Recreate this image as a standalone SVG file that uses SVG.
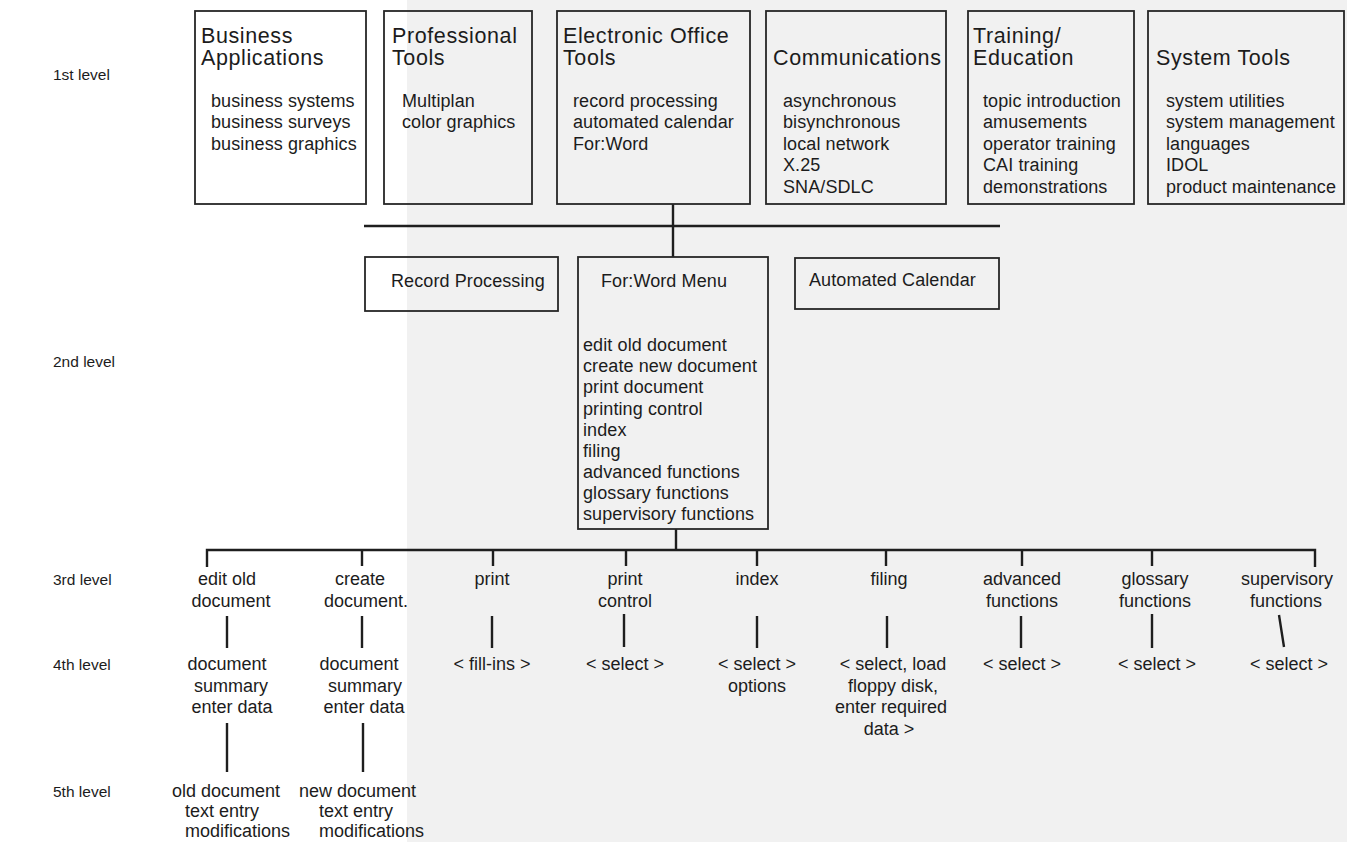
<svg xmlns="http://www.w3.org/2000/svg" width="1347" height="842" viewBox="0 0 1347 842">
<style>
text{font-family:"Liberation Sans",Arial,sans-serif;fill:#1c1c1c}
.title{font-size:21.5px;letter-spacing:0.6px}
.item{font-size:18px;letter-spacing:0.1px}
.lbl{font-size:18px}
.c{text-anchor:middle}
.lvl{font-size:15.5px}
.box{fill:none;stroke:#262626;stroke-width:1.8}
.ln{fill:none;stroke:#1e1e1e;stroke-width:2.4;stroke-linecap:butt}
</style>
<rect x="0" y="0" width="1347" height="842" fill="#ffffff"/>
<rect x="407" y="0" width="940" height="842" fill="#f1f1f1"/>

<g id="levels">
<text class="lvl" x="53" y="80">1st level</text>
<text class="lvl" x="53" y="367">2nd level</text>
<text class="lvl" x="53" y="585">3rd level</text>
<text class="lvl" x="53" y="670">4th level</text>
<text class="lvl" x="53" y="797">5th level</text>
</g>

<g id="connectors">
<path class="ln" d="M364,226 H1000"/>
<path class="ln" d="M673,204 V257"/>
<path class="ln" d="M676,529 V550"/>
<path class="ln" d="M207,567 V550 H1315 V567"/>
<path class="ln" d="M362,550 V566 M493,550 V566 M626,550 V566 M757,550 V566 M886,550 V566 M1022,550 V566 M1152,550 V566"/>
<path class="ln" d="M227,616 V648 M362,616 V648 M492,616 V648 M624,614 V647 M757,616 V648 M887,616 V648 M1021,616 V648 M1152,614 V648 M1279,615 L1284,647"/>
<path class="ln" d="M227,723 V772 M363,723 V772"/>
</g>

<g id="business-applications">
<rect class="box" x="195" y="11" width="171" height="193"/>
<text class="title" x="201" y="43">Business</text>
<text class="title" x="201" y="65">Applications</text>
<text class="item" x="211" y="106.5">business systems</text>
<text class="item" x="211" y="128">business surveys</text>
<text class="item" x="211" y="149.5">business graphics</text>
</g>

<g id="professional-tools">
<rect class="box" x="384" y="11" width="148" height="193"/>
<text class="title" x="392" y="43">Professional</text>
<text class="title" x="392" y="65">Tools</text>
<text class="item" x="402" y="106.5">Multiplan</text>
<text class="item" x="402" y="128">color graphics</text>
</g>

<g id="electronic-office-tools">
<rect class="box" x="557" y="11" width="193" height="193"/>
<text class="title" x="563" y="43">Electronic Office</text>
<text class="title" x="563" y="65">Tools</text>
<text class="item" x="573" y="106.5">record processing</text>
<text class="item" x="573" y="128">automated calendar</text>
<text class="item" x="573" y="149.5">For:Word</text>
</g>

<g id="communications">
<rect class="box" x="766" y="11" width="180" height="193"/>
<text class="title" x="773" y="65">Communications</text>
<text class="item" x="783" y="106.5">asynchronous</text>
<text class="item" x="783" y="128">bisynchronous</text>
<text class="item" x="783" y="149.5">local network</text>
<text class="item" x="783" y="171">X.25</text>
<text class="item" x="783" y="192.5">SNA/SDLC</text>
</g>

<g id="training-education">
<rect class="box" x="968" y="11" width="166" height="193"/>
<text class="title" x="973" y="43">Training/</text>
<text class="title" x="973" y="65">Education</text>
<text class="item" x="983" y="106.5">topic introduction</text>
<text class="item" x="983" y="128">amusements</text>
<text class="item" x="983" y="149.5">operator training</text>
<text class="item" x="983" y="171">CAI training</text>
<text class="item" x="983" y="192.5">demonstrations</text>
</g>

<g id="system-tools">
<rect class="box" x="1148" y="11" width="196" height="193"/>
<text class="title" x="1156" y="65">System Tools</text>
<text class="item" x="1166" y="106.5">system utilities</text>
<text class="item" x="1166" y="128">system management</text>
<text class="item" x="1166" y="149.5">languages</text>
<text class="item" x="1166" y="171">IDOL</text>
<text class="item" x="1166" y="192.5">product maintenance</text>
</g>

<g id="record-processing">
<rect class="box" x="365" y="257" width="193" height="54"/>
<text class="item" x="391" y="287">Record Processing</text>
</g>

<g id="forword-menu">
<rect class="box" x="578" y="257" width="190" height="272"/>
<text class="item" x="601" y="287">For:Word Menu</text>
<text class="item" x="583" y="351">edit old document</text>
<text class="item" x="583" y="372">create new document</text>
<text class="item" x="583" y="393">print document</text>
<text class="item" x="583" y="415">printing control</text>
<text class="item" x="583" y="436">index</text>
<text class="item" x="583" y="457">filing</text>
<text class="item" x="583" y="478">advanced functions</text>
<text class="item" x="583" y="499">glossary functions</text>
<text class="item" x="583" y="520">supervisory functions</text>
</g>

<g id="automated-calendar">
<rect class="box" x="795" y="258" width="204" height="51"/>
<text class="item" x="809" y="286">Automated Calendar</text>
</g>

<g id="edit-old-document">
<text class="lbl c" x="227" y="585">edit old</text>
<text class="lbl c" x="231" y="607">document</text>
</g>
<g id="create-document">
<text class="lbl c" x="360" y="585">create</text>
<text class="lbl c" x="366" y="607">document.</text>
</g>
<g id="print"><text class="lbl c" x="492" y="585">print</text></g>
<g id="print-control">
<text class="lbl c" x="625" y="585">print</text>
<text class="lbl c" x="625" y="607">control</text>
</g>
<g id="index"><text class="lbl c" x="757" y="585">index</text></g>
<g id="filing"><text class="lbl c" x="889" y="585">filing</text></g>
<g id="advanced-functions">
<text class="lbl c" x="1022" y="585">advanced</text>
<text class="lbl c" x="1022" y="607">functions</text>
</g>
<g id="glossary-functions">
<text class="lbl c" x="1155" y="585">glossary</text>
<text class="lbl c" x="1155" y="607">functions</text>
</g>
<g id="supervisory-functions">
<text class="lbl c" x="1287" y="585">supervisory</text>
<text class="lbl c" x="1286" y="607">functions</text>
</g>

<g id="edit-summary">
<text class="lbl c" x="227" y="670">document</text>
<text class="lbl c" x="231" y="692">summary</text>
<text class="lbl c" x="232" y="713">enter data</text>
</g>
<g id="create-summary">
<text class="lbl c" x="359" y="670">document</text>
<text class="lbl c" x="365" y="692">summary</text>
<text class="lbl c" x="364" y="713">enter data</text>
</g>
<g id="fill-ins"><text class="lbl c" x="492" y="670">&lt; fill-ins &gt;</text></g>
<g id="print-control-select"><text class="lbl c" x="625" y="670">&lt; select &gt;</text></g>
<g id="index-select">
<text class="lbl c" x="757" y="670">&lt; select &gt;</text>
<text class="lbl c" x="757" y="692">options</text>
</g>
<g id="filing-select">
<text class="lbl c" x="893" y="670">&lt; select, load</text>
<text class="lbl c" x="893" y="692">floppy disk,</text>
<text class="lbl c" x="891" y="713">enter required</text>
<text class="lbl c" x="889" y="735">data &gt;</text>
</g>
<g id="advanced-select"><text class="lbl c" x="1022" y="670">&lt; select &gt;</text></g>
<g id="glossary-select"><text class="lbl c" x="1157" y="670">&lt; select &gt;</text></g>
<g id="supervisory-select"><text class="lbl c" x="1289" y="670">&lt; select &gt;</text></g>

<g id="old-document-entry">
<text class="lbl" x="172" y="797">old document</text>
<text class="lbl" x="185" y="817">text entry</text>
<text class="lbl" x="185" y="837">modifications</text>
</g>
<g id="new-document-entry">
<text class="lbl" x="299" y="797">new document</text>
<text class="lbl" x="319" y="817">text entry</text>
<text class="lbl" x="319" y="837">modifications</text>
</g>
</svg>
